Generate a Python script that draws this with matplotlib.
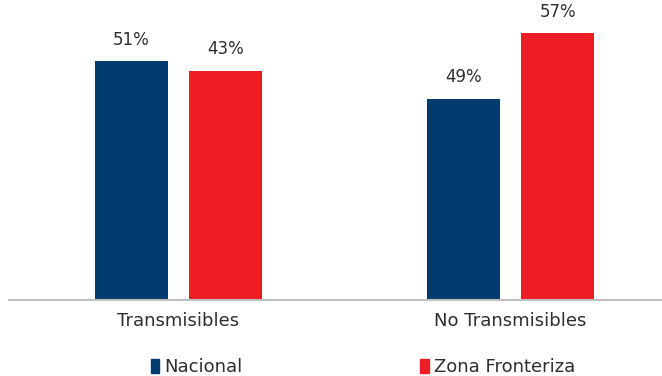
import matplotlib
matplotlib.use('Agg')

import numpy as np
import matplotlib.pyplot as plt
from matplotlib.patches import Patch

categorias = ['Transmisibles', 'No Transmisibles']
series = ['Nacional', 'Zona Fronteriza']
# alturas de barra
nacional = [51, 43]
fronteriza = [49, 57]
# etiquetas tal como aparecen sobre las barras
etiquetas_nacional = ['51%', '49%']
etiquetas_fronteriza = ['43%', '57%']

azul = '#023B6D'
rojo = '#EE1C25'
gris_texto = '#2E2E2E'

fig = plt.figure(figsize=(6.62, 3.76), dpi=100)
ax = fig.add_axes([9 / 662, 76 / 376, 653 / 662, 281 / 376])

x = np.arange(len(categorias))
ancho = 0.22
desp = 0.1416
b1 = ax.bar(x - desp, nacional, ancho, color=azul, label=series[0])
b2 = ax.bar(x + desp, fronteriza, ancho, color=rojo, label=series[1])

for barras, textos in [(b1, etiquetas_nacional), (b2, etiquetas_fronteriza)]:
    for b, t in zip(barras, textos):
        ax.annotate(t, (b.get_x() + b.get_width() / 2, b.get_height()),
                    xytext=(0, 9), textcoords='offset points',
                    ha='center', va='bottom', fontsize=12, color=gris_texto,
                    annotation_clip=False)

ax.set_xlim(-0.5105, 1.456)
ax.set_ylim(0, 60)
ax.set_xticks(x)
ax.set_xticklabels(categorias, fontsize=13, color=gris_texto)
ax.tick_params(axis='x', length=0, pad=9)
ax.set_yticks([])
for lado in ['top', 'right', 'left']:
    ax.spines[lado].set_visible(False)
ax.spines['bottom'].set_color('#BFBFBF')
ax.spines['bottom'].set_linewidth(1.5)

handles = [Patch(color=azul), Patch(color=rojo)]
fig.legend(handles, series, loc='center', bbox_to_anchor=(363 / 662, 1 - 367 / 376),
           ncol=2, frameon=False, fontsize=13, handlelength=0.45, handleheight=0.85,
           handletextpad=0.3, columnspacing=9.85, labelcolor=gris_texto,
           borderpad=0, borderaxespad=0)

fig.savefig('out.png', dpi=100)
plt.close(fig)
